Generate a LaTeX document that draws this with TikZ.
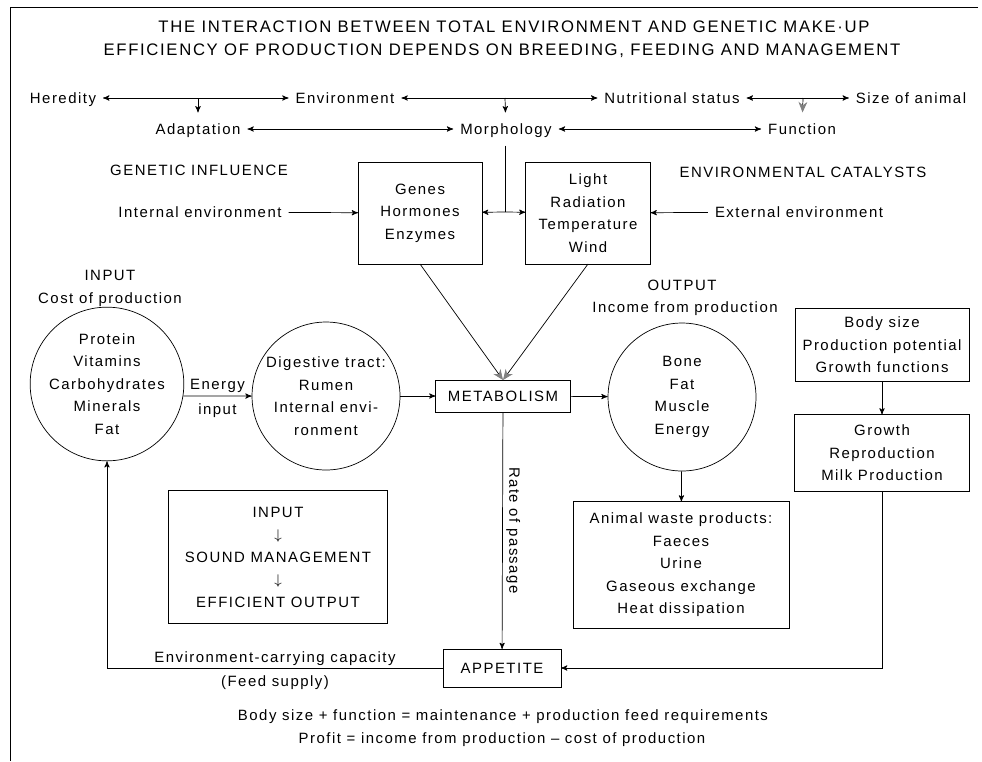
\documentclass[tikz,border=0pt]{standalone}
\usepackage{fontspec}
\setmainfont{Liberation Sans}[LetterSpace=10]
\usepackage{tikz}
\usetikzlibrary{arrows,arrows.meta,calc}
\tikzstyle{lbl}=[inner sep=2pt, outer sep=2pt, text height=1.6ex, text depth=.45ex]
\tikzset{->,>=stealth'}
\tikzset{greytip/.style={-{Stealth[color=gray,length=6pt,width=5pt]}}}
\newcommand{\drawbox}{\node[draw, align=center, inner sep=0, outer sep=0]}
\newcommand{\drawcirc}{\node[draw, circle, align=center, minimum size=2.96cm, inner sep=0]}
\newcommand{\drawlabel}{\node[lbl]}

\begin{document}
\begin{tikzpicture}[x=0.02cm, y=-0.02cm, font=\fontsize{8.5}{12.8}\selectfont]

	\useasboundingbox (0,0) rectangle (982,761);
	\draw[-] (978,7) -- (10,7) -- (10,761);

	\node[font=\fontsize{9.5}{12}\selectfont] (title1) at (514,27) {THE INTERACTION BETWEEN TOTAL ENVIRONMENT AND GENETIC MAKE·UP};
	\node[font=\fontsize{9.5}{12}\selectfont] (title2) at (502,51) {EFFICIENCY OF PRODUCTION DEPENDS ON BREEDING, FEEDING AND MANAGEMENT};

	\drawlabel (her) at (63,98) {Heredity};
	\drawlabel (env) at (345,98) {Environment};
	\drawlabel (nut) at (672,98) {Nutritional status};
	\drawlabel (size) at (911,98) {Size of animal};
	\drawlabel (adap) at (198,129) {Adaptation};
	\drawlabel (morph) at (506,129) {Morphology};
	\drawlabel (func) at (802,129) {Function};
	\coordinate (j1) at (198,98);
	\coordinate (j2) at (505,98);
	\coordinate (j3) at (803,98);

	\drawlabel (gen) at (199,170) {GENETIC INFLUENCE};
	\drawlabel (cat) at (803,172) {ENVIRONMENTAL CATALYSTS};
	\drawlabel (intenv) at (200,212) {Internal environment};
	\drawlabel (extenv) at (799,212) {External environment};
	\drawbox[minimum width=2.48cm, minimum height=2.04cm] (genes) at (420,213) {Genes\\Hormones\\Enzymes};
	\drawbox[minimum width=2.5cm, minimum height=2.04cm] (light) at (588,213) {Light\\Radiation\\Temperature\\Wind};
	\coordinate (j4) at (505,212);

	\drawlabel (input) at (110,275) {INPUT};
	\drawlabel (cost) at (110,298) {Cost of production};
	\drawcirc (food) at (107,384) {Protein\\Vitamins\\Carbohydrates\\Minerals\\Fat};
	\drawcirc (dig) at (326,396) {Digestive tract:\\Rumen\\Internal envi-\\ronment};
	\drawbox[minimum width=2.7cm, minimum height=0.64cm] (metab) at (503,396) {METABOLISM};
	\drawlabel (output) at (682,285) {OUTPUT};
	\drawlabel (income) at (685,307) {Income from production};
	\drawcirc (bone) at (682,397) {Bone\\Fat\\Muscle\\Energy};
	\drawbox[minimum width=3.48cm, minimum height=1.46cm] (body) at (882,345) {Body size\\Production potential\\Growth functions};
	\drawbox[minimum width=3.5cm, minimum height=1.54cm] (growth) at (882,453) {Growth\\Reproduction\\Milk Production};
	\drawbox[minimum width=4.32cm, minimum height=2.54cm] (waste) at (681,565) {Animal waste products:\\Faeces\\Urine\\Gaseous exchange\\Heat dissipation};
	\drawbox[minimum width=4.38cm, minimum height=2.66cm] (manag) at (278,557) {INPUT\\$\downarrow$\\SOUND MANAGEMENT\\$\downarrow$\\EFFICIENT OUTPUT};
	\drawbox[minimum width=2.36cm, minimum height=0.76cm] (app) at (502,668) {APPETITE};

	\node (eq1) at (503,717) {Body size + function = maintenance + production feed requirements};
	\node (eq2) at (502,740) {Profit = income from production – cost of production};

	\draw[<->] (her) -- (env);
	\draw[<->] (env) -- (nut);
	\draw[<->] (nut) -- (size);
	\draw[<->] (adap) -- (morph);
	\draw[<->] (morph) -- (func);
	\draw[->] (j1) -- (adap);
	\draw[->] (j2) -- (morph);
	\draw[greytip] (j3) -- (func);

	\draw[-] (j4 |- morph.south) -- (j4);
	\draw[->] (j4) -- (genes);
	\draw[->] (j4) -- (light);
	\draw[->] (intenv) -- (genes);
	\draw[->] (extenv) -- (light);
	\draw[greytip] (genes.south) -- (metab.north);
	\draw[greytip] (light.south) -- (metab.north);

	\draw[->] (food.-9) -- node[above=1pt, inner sep=1pt]{Energy} node[below=3pt, inner sep=1pt]{input} (dig);
	\draw[->] (dig) -- (metab);
	\draw[->] (metab) -- (bone);
	\draw[->] (bone) -- (waste);
	\draw[->] (body) -- (growth);
	\draw[->] (growth) |- (app);
	\draw[->] (metab) -- node[anchor=south, rotate=-90, inner sep=2pt]{Rate of passage} (app);
	\draw[->] (app) -| node[pos=.25, above, inner sep=1pt]{Environment-carrying capacity} node[pos=.25, below=3pt, inner sep=1pt]{(Feed supply)} (food);

\end{tikzpicture}
\end{document}
